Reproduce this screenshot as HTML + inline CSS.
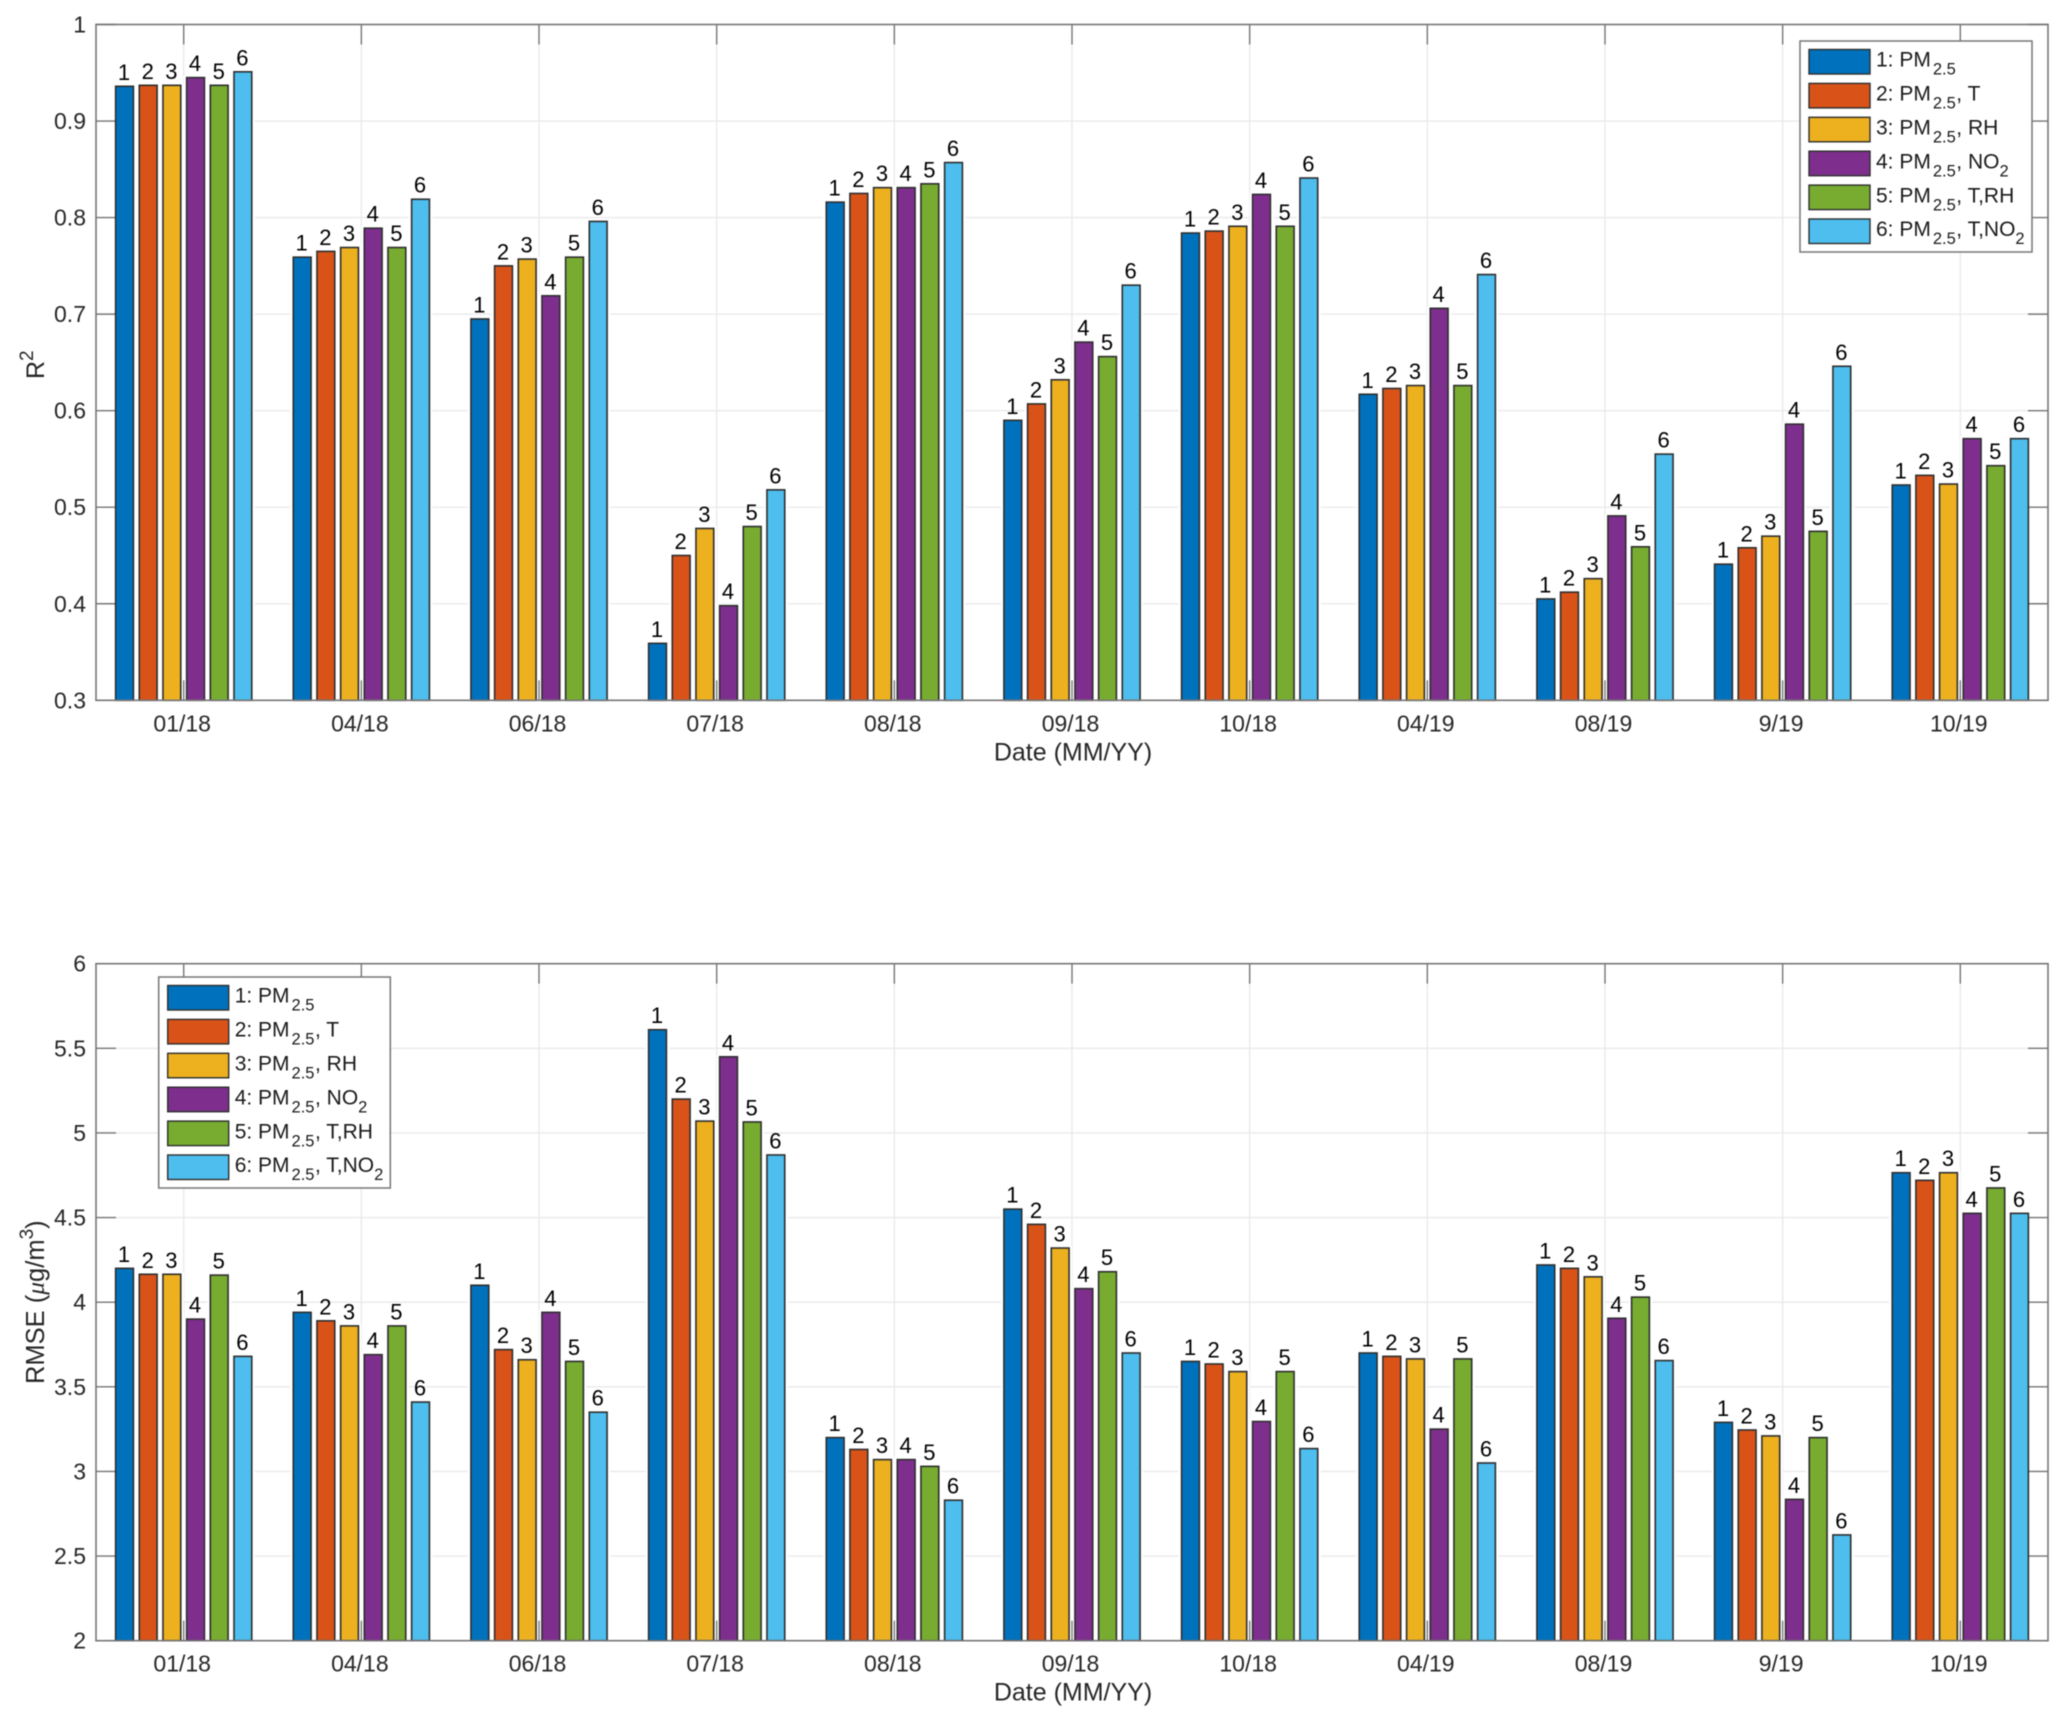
<!DOCTYPE html>
<html lang="en">
<head>
<meta charset="utf-8">
<title>R2 and RMSE by date</title>
<style>
html,body{margin:0;padding:0;background:#fff;}
body{width:2067px;height:1726px;overflow:hidden;}
svg{display:block;font-family:"Liberation Sans",Arial,sans-serif;filter:blur(0.4px);}
</style>
</head>
<body>
<svg id="figure" xmlns="http://www.w3.org/2000/svg" width="2067" height="1726" viewBox="0 0 2067 1726"></svg>
<script>
const categories = ['01/18','04/18','06/18','07/18','08/18','09/18','10/18','04/19','08/19','9/19','10/19'];
const seriesIds = ['1','2','3','4','5','6'];
const seriesColors = ['#0072BD','#D95319','#EDB120','#7E2F8E','#77AC30','#4DBEEE'];
const legendSuffix = ['', ', T', ', RH', ', NO', ', T,RH', ', T,NO'];
const legendSuffixSub = ['', '', '', '2', '', '2'];

const r2Series1 = [0.936,0.759,0.695,0.359,0.816,0.590,0.784,0.617,0.405,0.441,0.523];
const r2Series2 = [0.937,0.765,0.750,0.450,0.825,0.607,0.786,0.623,0.412,0.458,0.533];
const r2Series3 = [0.937,0.769,0.757,0.478,0.831,0.632,0.791,0.626,0.426,0.470,0.524];
const r2Series4 = [0.945,0.789,0.719,0.398,0.831,0.671,0.824,0.706,0.491,0.586,0.571];
const r2Series5 = [0.937,0.769,0.759,0.480,0.835,0.656,0.791,0.626,0.459,0.475,0.543];
const r2Series6 = [0.951,0.819,0.796,0.518,0.857,0.730,0.841,0.741,0.555,0.646,0.571];
const r2Ticks = [0.3,0.4,0.5,0.6,0.7,0.8,0.9,1];

const rmseSeries1 = [4.200,3.940,4.100,5.610,3.200,4.550,3.650,3.700,4.220,3.290,4.765];
const rmseSeries2 = [4.165,3.890,3.720,5.200,3.130,4.460,3.635,3.680,4.200,3.245,4.720];
const rmseSeries3 = [4.165,3.860,3.660,5.070,3.070,4.320,3.590,3.665,4.150,3.210,4.765];
const rmseSeries4 = [3.900,3.690,3.940,5.450,3.070,4.080,3.295,3.250,3.905,2.835,4.525];
const rmseSeries5 = [4.160,3.860,3.650,5.065,3.030,4.180,3.590,3.665,4.030,3.200,4.675];
const rmseSeries6 = [3.680,3.410,3.350,4.870,2.830,3.700,3.135,3.050,3.655,2.625,4.525];
const rmseTicks = [2,2.5,3,3.5,4,4.5,5,5.5,6];

const NS = 'http://www.w3.org/2000/svg';
const root = document.getElementById('figure');
const AXIS = '#767676', GRID = '#e9e9e9', TEXT = '#262626', EDGE = '#2e2e2e';

function mk(parent, tag, attrs, txt) {
  const el = document.createElementNS(NS, tag);
  for (const k in attrs) el.setAttribute(k, attrs[k]);
  if (txt !== undefined) el.textContent = txt;
  parent.appendChild(el);
  return el;
}

function drawChart(prefix, box, yMin, yMax, ticks, seriesList, yLabelBuilder, legendBox) {
  const xScale = i => 183.7 + 177.66 * i;
  const yScale = v => box.bottom - (v - yMin) / (yMax - yMin) * (box.bottom - box.top);
  const barStep = 23.67, barW = 17.8;

  const axes = mk(root, 'g', {});
  
  

  mk(axes, 'rect', {x: box.left, y: box.top, width: box.right - box.left, height: box.bottom - box.top, fill: '#fff'});

  ticks.forEach(t => {
    if (t === yMin || t === yMax) return;
    const y = yScale(t);
    const g = mk(axes, 'line', {x1: box.left, x2: box.right, y1: y, y2: y, stroke: GRID, 'stroke-width': 1.3});
    
    
  });
  categories.forEach((c, i) => {
    const x = xScale(i);
    const g = mk(axes, 'line', {x1: x, x2: x, y1: box.top, y2: box.bottom, stroke: GRID, 'stroke-width': 1.3});
    
    
  });

  seriesList.forEach((vals, s) => {
    vals.forEach((v, i) => {
      const cx = xScale(i) + (s - 2.5) * barStep;
      const top = yScale(v);
      const halo = mk(axes, 'rect', {x: cx - barW / 2 - 3, y: top - 2, width: barW + 6, height: box.bottom - top + 2, fill: '#fff'});
      
      
    });
  });

  ticks.forEach(t => {
    const y = yScale(t);
    const tl = mk(axes, 'line', {x1: box.left, x2: box.left + 20, y1: y, y2: y, stroke: AXIS, 'stroke-width': 1.4});
    
    
    const tr = mk(axes, 'line', {x1: box.right - 20, x2: box.right, y1: y, y2: y, stroke: AXIS, 'stroke-width': 1.4});
    
    
    const lab = mk(axes, 'text', {x: 86, y: y + 8, 'text-anchor': 'end', 'font-size': 23, fill: TEXT}, String(t));
    
    
  });

  categories.forEach((c, i) => {
    const x = xScale(i);
    const tt = mk(axes, 'line', {x1: x, x2: x, y1: box.top, y2: box.top + 20, stroke: AXIS, 'stroke-width': 1.4});
    
    
    const tb = mk(axes, 'line', {x1: x, x2: x, y1: box.bottom - 20, y2: box.bottom, stroke: AXIS, 'stroke-width': 1.4});
    
    
    const lab = mk(axes, 'text', {x: x - 1.5, y: box.bottom + 31, 'text-anchor': 'middle', 'font-size': 23, fill: TEXT}, c);
    
    
  });

  seriesList.forEach((vals, s) => {
    vals.forEach((v, i) => {
      const cx = xScale(i) + (s - 2.5) * barStep;
      const top = yScale(v);
      const r = mk(axes, 'rect', {x: cx - barW / 2, y: top, width: barW, height: box.bottom - top, fill: seriesColors[s], stroke: EDGE, 'stroke-width': 1.6});
      
      
      const t = mk(axes, 'text', {x: cx - 0.5, y: top - 6.5, 'text-anchor': 'middle', 'font-size': 22, fill: '#000'}, seriesIds[s]);
      
      
    });
  });

  const frame = mk(axes, 'rect', {x: box.left, y: box.top, width: box.right - box.left, height: box.bottom - box.top, fill: 'none', stroke: AXIS, 'stroke-width': 1.6});
  
  

  const xTitle = mk(axes, 'text', {x: 1073, y: box.bottom + 60, 'text-anchor': 'middle', 'font-size': 25, fill: TEXT}, 'Date (MM/YY)');
  
  

  yLabelBuilder(axes);

  const lg = mk(axes, 'g', {});
  
  
  mk(lg, 'rect', {x: legendBox.x, y: legendBox.y, width: legendBox.w, height: legendBox.h, fill: '#fff', stroke: AXIS, 'stroke-width': 1.5});
  seriesIds.forEach((id, s) => {
    const sy = legendBox.y + 8.5 + s * 33.9;
    const sw = mk(lg, 'rect', {x: legendBox.x + 9, y: sy, width: 61, height: 24.5, fill: seriesColors[s], stroke: EDGE, 'stroke-width': 1.4});
    
    
    const t = mk(lg, 'text', {x: legendBox.x + 76, y: sy + 17.2, 'font-size': 21, fill: '#1a1a1a'});
    
    
    mk(t, 'tspan', {}, id + ': PM');
    mk(t, 'tspan', {dy: 8, dx: 2, 'font-size': 16.5}, '2.5');
    if (legendSuffix[s]) {
      mk(t, 'tspan', {dy: -8, dx: 0.5}, legendSuffix[s]);
      if (legendSuffixSub[s]) mk(t, 'tspan', {dy: 8, 'font-size': 16.5}, legendSuffixSub[s]);
    }
  });
}

drawChart('r2', {left: 96, right: 2048, top: 24.5, bottom: 700.3}, 0.3, 1, r2Ticks,
  [r2Series1, r2Series2, r2Series3, r2Series4, r2Series5, r2Series6],
  function (g) {
    const t = mk(g, 'text', {transform: 'translate(44,379) rotate(-90)', 'font-size': 25, fill: TEXT});
    
    
    mk(t, 'tspan', {}, 'R');
    mk(t, 'tspan', {dy: -11, 'font-size': 19}, '2');
  },
  {x: 1800, y: 41, w: 232, h: 211});

drawChart('rmse', {left: 96, right: 2048, top: 963.7, bottom: 1640.7}, 2, 6, rmseTicks,
  [rmseSeries1, rmseSeries2, rmseSeries3, rmseSeries4, rmseSeries5, rmseSeries6],
  function (g) {
    const t = mk(g, 'text', {transform: 'translate(44,1384) rotate(-90)', 'font-size': 25.5, fill: TEXT});
    
    
    mk(t, 'tspan', {}, 'RMSE (');
    mk(t, 'tspan', {'font-style': 'italic', 'font-family': '"Liberation Serif",serif'}, '\u03BC');
    mk(t, 'tspan', {}, 'g/m');
    mk(t, 'tspan', {dy: -11, 'font-size': 19}, '3');
    mk(t, 'tspan', {dy: 11}, ')');
  },
  {x: 158.7, y: 977, w: 231.6, h: 211});
</script>
</body>
</html>
